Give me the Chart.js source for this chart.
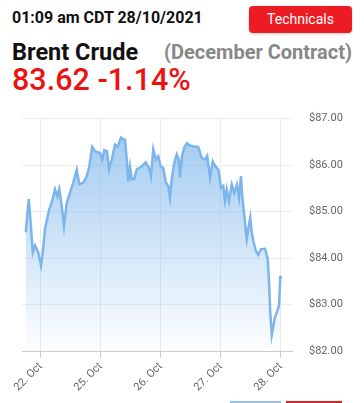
<!DOCTYPE html>
<html>
<head>
<meta charset="utf-8">
<script src="https://cdn.jsdelivr.net/npm/chart.js@4"></script>
<style>
  body { margin: 0; background: #fff; font-family: Roboto, sans-serif; }
  #page { position: relative; width: 364px; height: 403px; overflow: hidden; }
  .stamp { position: absolute; left: 12px; top: 8px; font-size: 16px; font-weight: bold; color: #111; }
  .btn { position: absolute; left: 249px; top: 6px; width: 103px; height: 27px; background: #ed1c24;
         border-radius: 4px; color: #fff; font-size: 14px; line-height: 27px; text-align: center;
         box-shadow: 0 1px 3px rgba(0,0,0,0.2); }
  .name { position: absolute; left: 12px; top: 38px; font-size: 23.5px; font-weight: bold; color: #111; }
  .contract { position: absolute; right: 12px; top: 40px; font-size: 20px; font-weight: bold; color: #888; }
  .price { position: absolute; left: 12px; top: 62px; font-size: 30.5px; font-weight: 500; color: #ee1111; }
  #box { position: absolute; left: 0; top: 95px; width: 364px; height: 303px; }
  .bar1 { position: absolute; left: 230px; top: 401px; width: 51px; height: 2px; background: #9cc3dd; }
  .bar2 { position: absolute; left: 286px; top: 401px; width: 56px; height: 2px; background: #d8222a; }
</style>
</head>
<body>
<div id="page">
  <div class="stamp">01:09 am CDT 28/10/2021</div>
  <div class="btn">Technicals</div>
  <div class="name">Brent Crude</div>
  <div class="contract">(December Contract)</div>
  <div class="price">83.62 -1.14%</div>
  <div id="box"><canvas id="grafica"></canvas></div>
  <div class="bar1"></div>
  <div class="bar2"></div>
</div>
<script>
// hours on a trading-time axis, 0 = 22 Oct
var horas = [-6.0, -4.8, -4.0, -3.2, -2.3, -1.0, 0.1, 0.8, 1.7, 3.4, 4.4, 5.7, 6.6, 7.4, 8.4, 9.3,
  10.4, 11.7, 13.0, 14.4, 15.4, 17.0, 18.4, 19.4, 20.6, 21.7, 23.7, 24.6, 25.4, 26.5, 27.3, 28.4,
  29.7, 30.8, 32.1, 33.0, 33.7, 34.4, 35.0, 35.7, 36.4, 37.4, 38.4, 40.4, 42.0, 43.3, 44.1, 45.0,
  46.1, 47.0, 48.0, 49.0, 50.1, 51.0, 51.7, 52.4, 53.3, 54.4, 55.2, 55.7, 56.5, 57.3, 58.4, 59.7,
  61.3, 63.0, 64.4, 65.7, 66.6, 67.7, 68.8, 69.7, 71.0, 71.3, 72.1, 73.0, 73.7, 74.4, 75.3, 76.4,
  77.4, 78.5, 79.3, 80.1, 80.6, 81.4, 82.4, 83.0, 83.8, 84.4, 85.0, 86.0, 87.0, 88.1, 89.7, 90.8,
  91.3, 91.8, 92.4, 93.0, 93.7, 94.5, 95.3, 95.8, 96.0];
var precios = [84.55, 85.27, 84.75, 84.12, 84.27, 84.12, 83.84, 84.12, 84.63, 85.05, 85.19, 85.48, 85.33, 85.49, 85.12, 84.69,
  85.19, 85.40, 85.62, 85.90, 85.59, 85.62, 85.76, 85.97, 86.39, 86.30, 86.26, 86.12, 86.32, 86.30, 85.91, 86.12,
  86.44, 86.40, 86.59, 86.55, 86.55, 86.12, 85.65, 85.97, 85.70, 85.70, 85.91, 85.97, 86.06, 85.94, 85.76, 86.34,
  86.12, 86.19, 85.97, 85.94, 85.62, 85.55, 85.30, 85.70, 86.02, 86.23, 86.12, 85.73, 86.19, 86.37, 86.47, 86.42,
  86.40, 86.39, 86.15, 86.12, 86.20, 85.73, 86.08, 85.99, 85.90, 85.83, 85.51, 85.55, 85.23, 85.48, 85.23, 85.58,
  85.40, 85.58, 85.30, 85.76, 85.33, 84.91, 84.41, 84.62, 84.87, 84.55, 84.37, 84.16, 84.07, 84.19, 84.20, 83.98,
  83.48, 82.84, 82.34, 82.52, 82.73, 82.84, 82.98, 83.59, 83.62];
var diasHoras = [0, 24, 48, 72, 96];
var diasNombres = ["22. Oct", "25. Oct", "26. Oct", "27. Oct", "28. Oct"];
var preciosTicks = [82, 83, 84, 85, 86, 87];

var puntos = horas.map(function(h, i){ return {x: h, y: precios[i]}; });

function relleno(ctx)
{
  var area = ctx.chart.chartArea;
  if(!area){
    return 'rgba(124,181,236,0.4)';
  }
  var g = ctx.chart.ctx.createLinearGradient(0, area.top, 0, area.bottom);
  g.addColorStop(0, 'rgba(124,181,236,0.75)');
  g.addColorStop(1, 'rgba(124,181,236,0.02)');
  return g;
}

var graph = document.getElementById("grafica");
var lineChart = new Chart(graph, {
  type: 'line',
  data: {
    datasets: [{
      data: puntos,
      borderColor: '#7cb5ec',
      borderWidth: 2.5,
      backgroundColor: relleno,
      fill: 'start',
      pointRadius: 0,
      tension: 0
    }]
  },
  options: {
    responsive: true,
    maintainAspectRatio: false,
    animation: false,
    layout: { padding: { left: 22, top: 0, right: 0, bottom: 0 } },
    plugins: {
      legend: { display: false },
      tooltip: { enabled: false }
    },
    scales: {
      x: {
        type: 'linear',
        min: -7.5,
        max: 100.5,
        afterBuildTicks: function(s){ s.ticks = diasHoras.map(function(v){ return {value: v}; }); },
        afterFit: function(s){ s.height = 47; },
        ticks: {
          minRotation: 45,
          maxRotation: 45,
          autoSkip: false,
          color: '#666',
          font: { family: 'Roboto', size: 11 },
          padding: 2,
          callback: function(v){ return diasNombres[diasHoras.indexOf(v)]; }
        },
        grid: { color: '#ececec', tickColor: '#ccc', tickLength: 7 },
        border: { color: '#ccc' }
      },
      y: {
        position: 'right',
        min: 82,
        max: 87,
        afterBuildTicks: function(s){ s.ticks = preciosTicks.map(function(v){ return {value: v}; }); },
        afterFit: function(s){ s.width = 72; },
        ticks: {
          color: '#666',
          font: { family: 'Roboto', size: 11 },
          padding: 17,
          callback: function(v){ return '$' + v.toFixed(2); }
        },
        grid: { color: '#ececec', drawTicks: false },
        border: { display: false }
      }
    }
  }
});
</script>
</body>
</html>
